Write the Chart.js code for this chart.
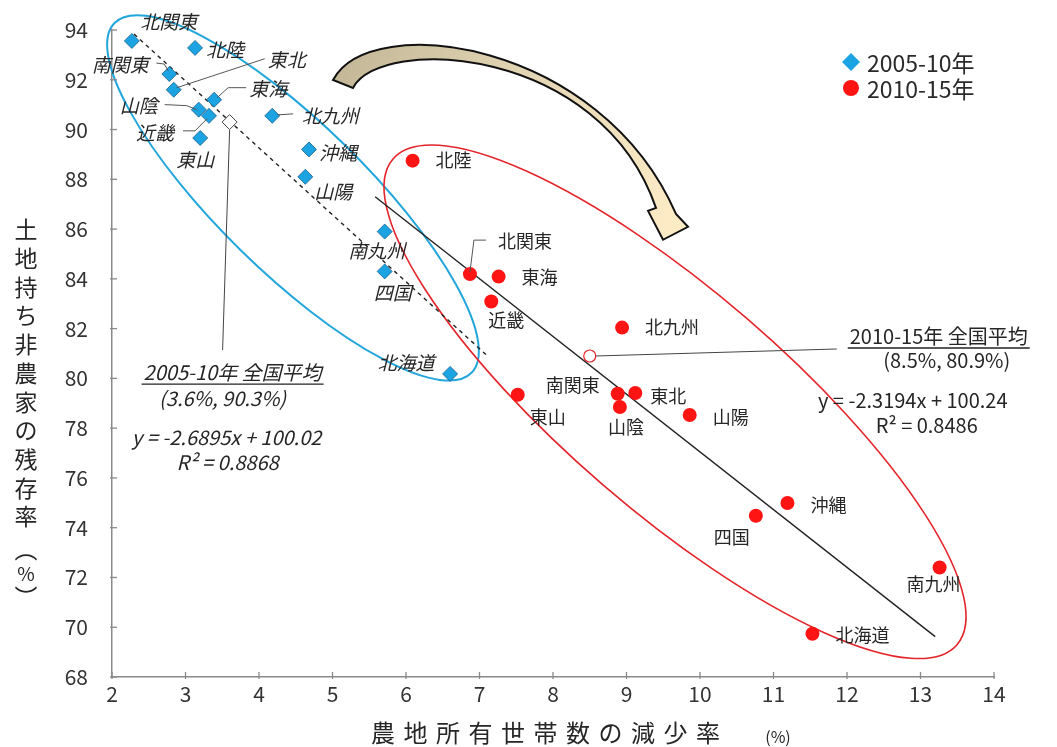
<!DOCTYPE html>
<html>
<head>
<meta charset="utf-8">
<script src="https://cdn.jsdelivr.net/npm/chart.js@4.4.1/dist/chart.umd.min.js"></script>
<style>
  html, body { margin: 0; padding: 0; background: #fff; }
  #wrap { width: 1057px; height: 747px; }
</style>
</head>
<body>
<div id="wrap"><canvas id="chart" width="1057" height="747"></canvas></div>
<script>
const FONT = '"Noto Sans CJK JP", "Noto Sans", sans-serif';

// ---- 2005-10年: 農地所有世帯数の減少率 (x, %) / 土地持ち非農家の残存率 (y, %)
const regions0510 = ['北関東', '北陸', '南関東', '東北', '東海', '山陰', '近畿', '東山', '北九州', '沖縄', '山陽', '南九州', '四国', '北海道'];
const decline0510 = [2.27, 3.13, 2.78, 2.84, 3.39, 3.18, 3.32, 3.20, 4.18, 4.68, 4.63, 5.71, 5.71, 6.60];
const remain0510  = [93.56, 93.28, 92.23, 91.60, 91.20, 90.80, 90.55, 89.66, 90.55, 89.20, 88.10, 85.90, 84.30, 80.18];

// ---- 2010-15年
const regions1015 = ['北陸', '北関東', '東海', '近畿', '北九州', '東山', '南関東', '東北', '山陰', '山陽', '沖縄', '四国', '南九州', '北海道'];
const decline1015 = [6.09, 6.87, 7.26, 7.16, 8.94, 7.52, 8.88, 9.12, 8.91, 9.86, 11.19, 10.76, 13.26, 11.53];
const remain1015  = [88.75, 84.19, 84.09, 83.09, 82.04, 79.34, 79.38, 79.41, 78.85, 78.53, 74.99, 74.48, 72.40, 69.74];

// 全国平均 (減少率, 残存率)
const nationalAvg0510 = [3.6, 90.3];
const nationalAvg1015 = [8.5, 80.9];

// 近似直線
const fit0510 = { slope: -2.6895, intercept: 100.02, r2: 0.8868, xFrom: 2.3, xTo: 7.1 };
const fit1015 = { slope: -2.3194, intercept: 100.24, r2: 0.8486, xFrom: 5.58, xTo: 13.2 };

// 目盛
const xTicks = [2, 3, 4, 5, 6, 7, 8, 9, 10, 11, 12, 13, 14];
const yTicks = [68, 70, 72, 74, 76, 78, 80, 82, 84, 86, 88, 90, 92, 94];

const seriesNames = ['2005-10年', '2010-15年'];
const xTitle = '農地所有世帯数の減少率';
const yTitle = '土地持ち非農家の残存率';

// ---------------- presentation (offsets in px, relative to each point) ----------------
const labelOffsets0510 = {
  '北関東': [37, -19], '北陸': [30, 2], '南関東': [-49, -9], '東北': [113, -30], '東海': [54, -11],
  '山陰': [-60, -4], '近畿': [-54, 17], '東山': [-5, 22], '北九州': [58, 0], '沖縄': [29, 3],
  '山陽': [28, 15], '南九州': [-8, 19], '四国': [8, 21], '北海道': [-44, -11]
};
const labelOffsets1015 = {
  '北陸': [41, 0], '北関東': [55, -33], '東海': [41, 1], '近畿': [15, 19], '北九州': [50, 0],
  '東山': [30, 22], '南関東': [-45, -9], '東北': [33, 3], '山陰': [6, 20], '山陽': [41, 2],
  '沖縄': [41, 2], '四国': [-24, 21], '南九州': [-6, 17], '北海道': [50, 1]
};
const leaders0510 = {
  '南関東': [[-13, -11], [-5, -10], [-1, -3]],
  '東北': [[3, -2], [91, -31]],
  '東海': [[3, -2], [14, -12], [32, -12]],
  '山陰': [[-34, -5], [-12, -4], [-2, 0]],
  '近畿': [[-26, 15], [-14, 15], [-2, 3]],
  '北九州': [[5, -1], [21, -2]]
};
const leaders1015 = {
  '北関東': [[0, -2], [4, -34], [16, -34]]
};

// Callout blocks for the national averages (offsets from the average mark)
const avgCallouts = [
  { avg: nationalAvg0510, fit: fit0510, name: seriesNames[0], italic: true,
    leader: [[0, 8], [-7, 228]], title: [3, 250], coords: [-7, 276], eq: [-3, 315], r2: [-2, 340] },
  { avg: nationalAvg1015, fit: fit1015, name: seriesNames[1], italic: false,
    leader: [[6, 0], [247, -7]], title: [349, -20], coords: [357, 4], eq: [323, 44], r2: [337, 69] }
];

// Group outlines: major-axis end points (data units) and half minor axis (px)
const groupOutlines = [
  { from: [2.034, 94.28], to: [6.891, 80.225], halfWidth: 74, color: '#23a6dc', width: 2 },
  { from: [5.823, 88.82], to: [13.497, 69.30], halfWidth: 110, color: '#e4242a', width: 1.6 }
];

// Curved arrow (data units): outer edge, head, inner edge
const arrowShape = {
  tailOuter: [5.007, 91.99], outerC1: [5.510, 94.80], outerC2: [8.639, 93.60], headRight: [9.673, 86.61],
  barbRight: [9.837, 86.09], tip: [9.497, 85.57], barbLeft: [9.293, 86.73], headLeft: [9.401, 86.85],
  innerC2: [8.639, 93.40], innerC1: [5.646, 93.80], tailInner: [5.279, 91.67]
};

const BLUE = '#1ba3e2', BLUE_EDGE = '#1c5f8c', RED = '#ff1414', TEXT = '#262626';

const pts = (xs, ys) => xs.map((x, i) => ({ x, y: ys[i] }));
const fitLine = f => [
  { x: f.xFrom, y: f.slope * f.xFrom + f.intercept },
  { x: f.xTo, y: f.slope * f.xTo + f.intercept }
];

function toPx(chart, p) {
  return [chart.scales.x.getPixelForValue(p[0]), chart.scales.y.getPixelForValue(p[1])];
}

// ---------------- plugins ----------------
const outlinePlugin = {
  id: 'groupOutlines',
  beforeDatasetsDraw(chart) {
    const c = chart.ctx;
    c.save();
    groupOutlines.forEach(o => {
      const [x1, y1] = toPx(chart, o.from), [x2, y2] = toPx(chart, o.to);
      const a = Math.hypot(x2 - x1, y2 - y1) / 2;
      const ang = Math.atan2(y2 - y1, x2 - x1);
      c.beginPath();
      c.ellipse((x1 + x2) / 2, (y1 + y2) / 2, a, o.halfWidth, ang, 0, Math.PI * 2);
      c.strokeStyle = o.color;
      c.lineWidth = o.width;
      c.stroke();
    });
    c.restore();
  }
};

const arrowPlugin = {
  id: 'shiftArrow',
  afterDatasetsDraw(chart) {
    const c = chart.ctx, s = arrowShape, P = k => toPx(chart, s[k]);
    const A = P('tailOuter'), T = P('tip');
    c.save();
    c.beginPath();
    c.moveTo(...A);
    c.bezierCurveTo(...P('outerC1'), ...P('outerC2'), ...P('headRight'));
    c.lineTo(...P('barbRight'));
    c.lineTo(...T);
    c.lineTo(...P('barbLeft'));
    c.lineTo(...P('headLeft'));
    c.bezierCurveTo(...P('innerC2'), ...P('innerC1'), ...P('tailInner'));
    c.closePath();
    const g = c.createLinearGradient(A[0], A[1], T[0], T[1]);
    g.addColorStop(0, '#c4b797');
    g.addColorStop(0.45, '#e2d5b4');
    g.addColorStop(1, '#fdebc6');
    c.fillStyle = g;
    c.fill();
    c.lineJoin = 'miter';
    c.strokeStyle = '#111';
    c.lineWidth = 2;
    c.stroke();
    c.restore();
  }
};

function drawPolyline(c, x0, y0, offs) {
  c.beginPath();
  offs.forEach((o, i) => (i ? c.lineTo(x0 + o[0], y0 + o[1]) : c.moveTo(x0 + o[0], y0 + o[1])));
  c.stroke();
}

const labelPlugin = {
  id: 'regionLabels',
  afterDatasetsDraw(chart) {
    const c = chart.ctx;
    c.save();
    c.textAlign = 'center';
    c.textBaseline = 'middle';
    c.strokeStyle = '#555';
    c.lineWidth = 1;
    const groups = [
      { meta: chart.getDatasetMeta(0), names: regions0510, offs: labelOffsets0510, leaders: leaders0510, font: `italic 19px ${FONT}` },
      { meta: chart.getDatasetMeta(1), names: regions1015, offs: labelOffsets1015, leaders: leaders1015, font: `18px ${FONT}` }
    ];
    groups.forEach(g => {
      g.meta.data.forEach((el, i) => {
        const name = g.names[i];
        const off = g.offs[name] || [0, -16];
        if (g.leaders[name]) drawPolyline(c, el.x, el.y, g.leaders[name]);
        c.font = g.font;
        c.fillStyle = TEXT;
        c.fillText(name, el.x + off[0], el.y + off[1]);
      });
    });

    // 全国平均 callouts and regression equations
    avgCallouts.forEach(cb => {
      const [ax, ay] = toPx(chart, cb.avg);
      c.strokeStyle = '#444';
      c.lineWidth = 1;
      drawPolyline(c, ax, ay, cb.leader);
      const font = (cb.italic ? 'italic ' : '') + '20px ' + FONT;
      c.font = font;
      c.fillStyle = TEXT;
      const title = cb.name + ' 全国平均';
      const tx = ax + cb.title[0], ty = ay + cb.title[1];
      c.fillText(title, tx, ty);
      const w = c.measureText(title).width;
      c.beginPath();
      c.moveTo(tx - w / 2 - 2, ty + 12);
      c.lineTo(tx + w / 2 + 2, ty + 12);
      c.strokeStyle = '#222';
      c.lineWidth = 1.3;
      c.stroke();
      c.fillText(`(${cb.avg[0]}%, ${cb.avg[1]}%)`, ax + cb.coords[0], ay + cb.coords[1]);
      const f = cb.fit;
      c.fillText(`y = ${f.slope.toFixed(4)}x + ${f.intercept.toFixed(2)}`, ax + cb.eq[0], ay + cb.eq[1]);
      c.fillText(`R² = ${f.r2.toFixed(4)}`, ax + cb.r2[0], ay + cb.r2[1]);
    });
    c.restore();
  }
};

const axisDecorPlugin = {
  id: 'axisDecor',
  afterDraw(chart) {
    const c = chart.ctx, area = chart.chartArea, xs = chart.scales.x, ys = chart.scales.y;
    c.save();
    // inward tick marks
    c.strokeStyle = '#8a8a8a';
    c.lineWidth = 1.3;
    xs.ticks.forEach(t => {
      const x = xs.getPixelForValue(t.value);
      c.beginPath(); c.moveTo(x, area.bottom + 2); c.lineTo(x, area.bottom - 5); c.stroke();
    });
    ys.ticks.forEach(t => {
      const y = ys.getPixelForValue(t.value);
      c.beginPath(); c.moveTo(area.left - 2, y); c.lineTo(area.left + 5, y); c.stroke();
    });

    // x-axis title with wide letter spacing
    c.fillStyle = TEXT;
    c.textBaseline = 'middle';
    c.textAlign = 'center';
    c.font = `24px ${FONT}`;
    const pitch = 32.5;
    const cx0 = (area.left + area.right) / 2 - 7.5 - pitch * (xTitle.length - 1) / 2;
    [...xTitle].forEach((ch, i) => c.fillText(ch, cx0 + i * pitch, area.bottom + 56));
    c.font = `16px ${FONT}`;
    c.fillText('(%)', cx0 + (xTitle.length - 1) * pitch + 70, area.bottom + 60);

    // y-axis title, stacked vertically
    c.font = `23px ${FONT}`;
    const yx = area.left - 86, yy0 = area.top + 199.6, ypitch = 28.7;
    [...yTitle].forEach((ch, i) => c.fillText(ch, yx, yy0 + i * ypitch));
    const after = yy0 + (yTitle.length - 1) * ypitch;
    c.fillText('︵', yx, after + 33);
    c.font = `19px ${FONT}`;
    c.fillText('%', yx, after + 57);
    c.font = `23px ${FONT}`;
    c.fillText('︶', yx, after + 81);

    // legend
    const lx = area.right - 143, ly = area.top + 32;
    chart.data.datasets.slice(0, 2).forEach((ds, i) => {
      const y = ly + i * 26;
      c.fillStyle = ds.backgroundColor;
      c.beginPath();
      if (i === 0) {
        c.moveTo(lx, y - 9); c.lineTo(lx + 9, y); c.lineTo(lx, y + 9); c.lineTo(lx - 9, y);
      } else {
        c.arc(lx, y, 8, 0, Math.PI * 2);
      }
      c.closePath();
      c.fill();
      c.fillStyle = '#2a2a2a';
      c.textAlign = 'left';
      c.font = `23px ${FONT}`;
      c.fillText(ds.label, lx + 16, y + 1);
    });
    c.restore();
  }
};

// ---------------- chart ----------------
new Chart(document.getElementById('chart'), {
  type: 'scatter',
  data: {
    datasets: [
      {
        label: seriesNames[0], data: pts(decline0510, remain0510),
        pointStyle: 'rectRot', radius: 7.5, backgroundColor: BLUE, borderColor: BLUE_EDGE, borderWidth: 0.8, order: 0
      },
      {
        label: seriesNames[1], data: pts(decline1015, remain1015),
        pointStyle: 'circle', radius: 7, backgroundColor: RED, borderColor: RED, borderWidth: 0, order: 0
      },
      {
        label: seriesNames[0] + ' 全国平均', data: [{ x: nationalAvg0510[0], y: nationalAvg0510[1] }],
        pointStyle: 'rectRot', radius: 7.5, backgroundColor: '#fff', borderColor: '#444', borderWidth: 1, order: 0
      },
      {
        label: seriesNames[1] + ' 全国平均', data: [{ x: nationalAvg1015[0], y: nationalAvg1015[1] }],
        pointStyle: 'circle', radius: 6, backgroundColor: '#fff', borderColor: '#e4242a', borderWidth: 1.2, order: 0
      },
      {
        label: 'fit0510', data: fitLine(fit0510), showLine: true, pointRadius: 0,
        borderColor: '#222', borderWidth: 1.4, borderDash: [4, 4], order: 2
      },
      {
        label: 'fit1015', data: fitLine(fit1015), showLine: true, pointRadius: 0,
        borderColor: '#222', borderWidth: 1.4, order: 2
      }
    ]
  },
  options: {
    responsive: false,
    animation: false,
    events: [],
    layout: { padding: { left: 0, top: 30, right: 63, bottom: 0 } },
    plugins: { legend: { display: false }, tooltip: { enabled: false } },
    scales: {
      x: {
        type: 'linear', min: xTicks[0], max: xTicks[xTicks.length - 1],
        afterBuildTicks: s => { s.ticks = xTicks.map(v => ({ value: v })); },
        afterFit: s => { s.height = 70; },
        grid: { display: true, drawOnChartArea: false, drawTicks: false },
        border: { display: true, color: '#8a8a8a', width: 1.5 },
        ticks: { color: '#333', font: { family: FONT, size: 21 }, padding: 4, maxRotation: 0 }
      },
      y: {
        type: 'linear', min: yTicks[0], max: yTicks[yTicks.length - 1],
        afterBuildTicks: s => { s.ticks = yTicks.map(v => ({ value: v })); },
        afterFit: s => { s.width = 112; s.paddingTop = 0; s.paddingBottom = 0; },
        grid: { display: true, drawOnChartArea: false, drawTicks: false },
        border: { display: true, color: '#8a8a8a', width: 1.5 },
        ticks: { color: '#333', font: { family: FONT, size: 21 }, padding: 24 }
      }
    }
  },
  plugins: [outlinePlugin, arrowPlugin, labelPlugin, axisDecorPlugin]
});
</script>
</body>
</html>
